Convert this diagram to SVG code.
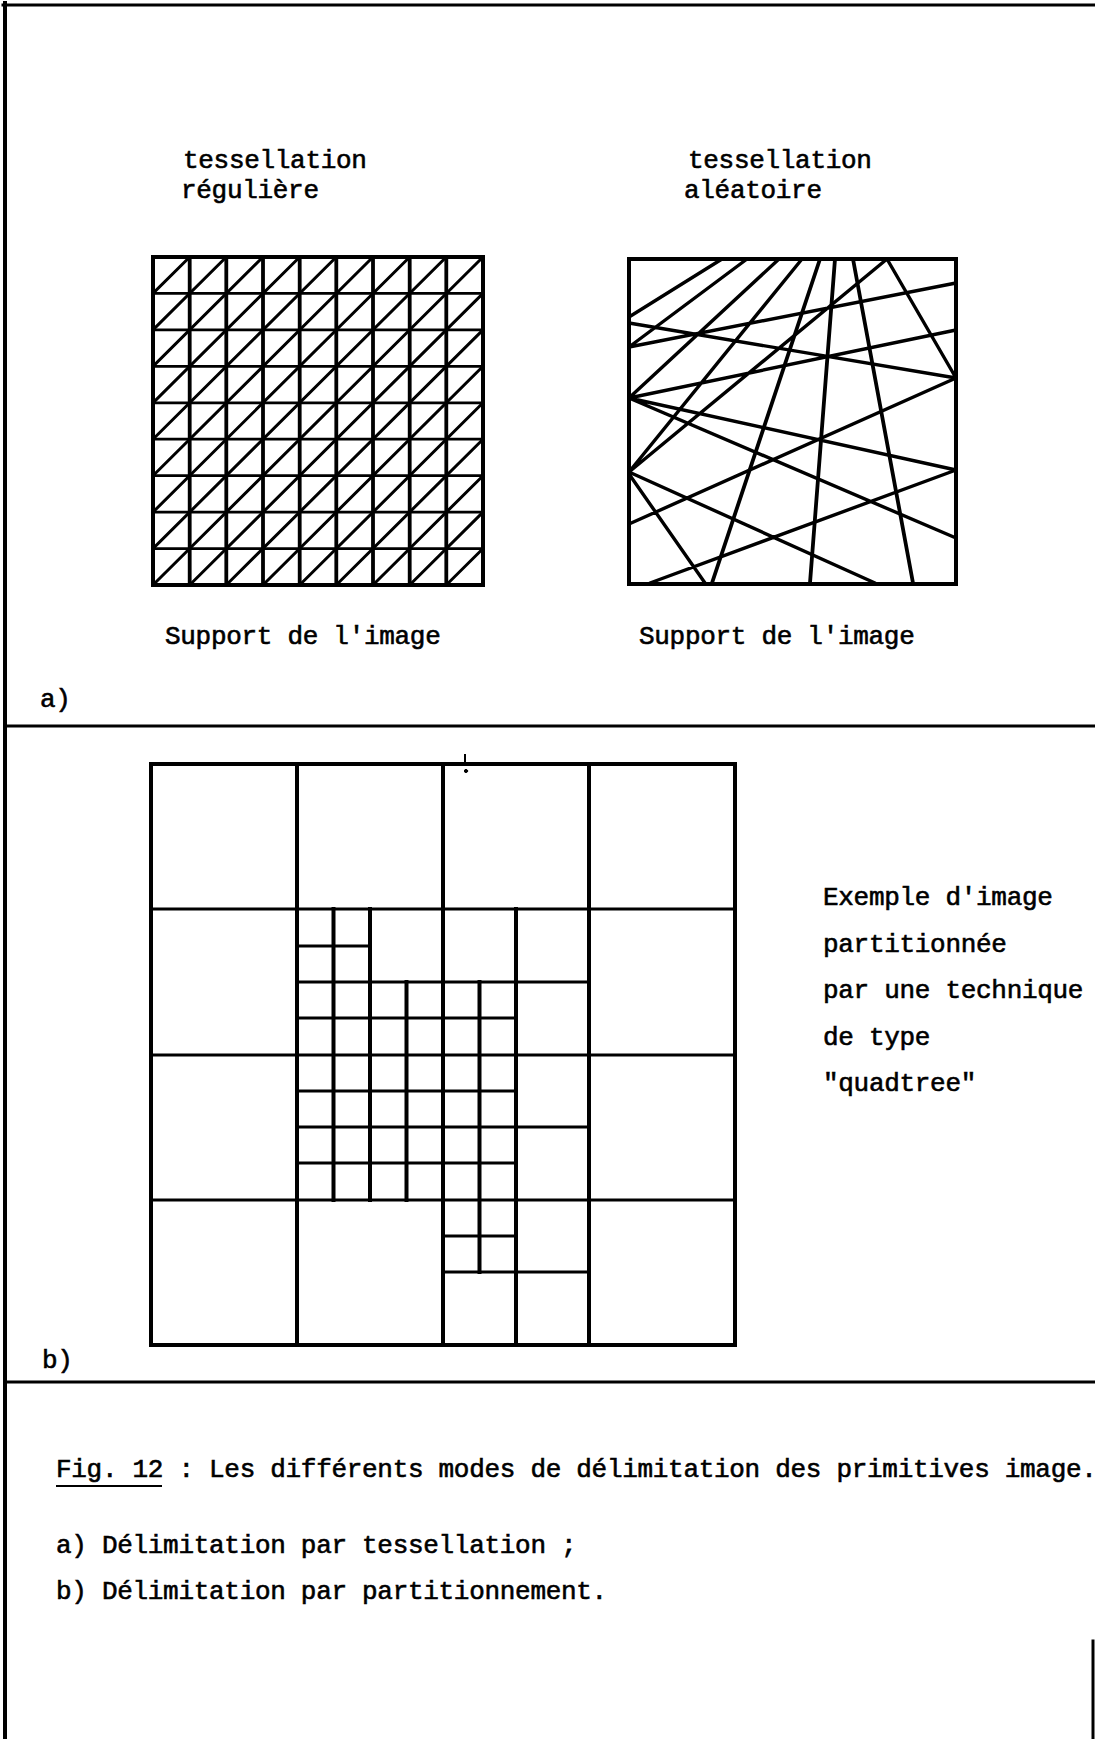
<svg xmlns="http://www.w3.org/2000/svg" width="1095" height="1739" viewBox="0 0 1095 1739">
<style>
.t{font-family:"Liberation Mono","Courier New",monospace;font-size:26px;letter-spacing:-0.3px;fill:#000;stroke:#000;stroke-width:0.6px}
.k{stroke:#000;fill:none;stroke-linecap:square}
.f{stroke-width:3}
.b{stroke-width:4}
.v{stroke-width:3.8}
.h{stroke-width:2.7}
.d{stroke-width:3}
.r{stroke-width:3.4;stroke-linecap:round}
.qv{stroke-width:4}
.qh{stroke-width:3}
</style>
<rect width="1095" height="1739" fill="#fff"/>
<g id="frame" class="k">
<line class="b" x1="5" y1="3" x2="5" y2="1739"/>
<line class="f" x1="3" y1="5" x2="1095" y2="5"/>
<line class="f" x1="5" y1="726" x2="1095" y2="726"/>
<line class="f" x1="5" y1="1382" x2="1095" y2="1382"/>
<line class="f" x1="1093" y1="1641" x2="1093" y2="1739"/>
</g>
<g id="regular-tessellation" class="k">
<path class="v" d="M189.7 257V585M226.3 257V585M263 257V585M299.7 257V585M336.3 257V585M373 257V585M409.7 257V585M446.3 257V585"/>
<path class="h" d="M153 293.4H483M153 329.9H483M153 366.3H483M153 402.8H483M153 439.2H483M153 475.7H483M153 512.1H483M153 548.6H483"/>
<path class="d" d="M153 293.4L189.7 257M153 329.9L226.3 257M153 366.3L263 257M153 402.8L299.7 257M153 439.2L336.3 257M153 475.7L373 257M153 512.1L409.7 257M153 548.6L446.3 257M153 585L483 257M189.7 585L483 293.4M226.3 585L483 329.9M263 585L483 366.3M299.7 585L483 402.8M336.3 585L483 439.2M373 585L483 475.7M409.7 585L483 512.1M446.3 585L483 548.6"/>
<rect class="b" x="153" y="257" width="330" height="328"/>
</g>
<g id="random-tessellation" class="k">
<path class="r" d="M629 317L722 259M629 347L747 259M629 398L779 259M629 472L802 259M629 347L956 283M629 323L956 378M629 398L956 330M629 398L956 470M629 398L956 538M629 524L956 378M650 583L956 470M629 472L875 583M629 474L705 583M629 472L887 259M887 259L956 378"/>
<path class="r" style="stroke-width:3.8" d="M820 259L712 583M835 259L810 583M853 259L913 583"/>
<rect class="b" x="629" y="259" width="327" height="325"/>
</g>
<g id="quadtree" class="k">
<path class="qv" d="M297 764V1345M443 764V1345M589 764V1345M333.5 909V1200M370 909V1200M406.5 982V1200M479.5 982V1272M516 909V1345"/>
<path class="qh" d="M151 909H735M151 1055H735M151 1200H735M297 946H370M297 982H589M297 1018H516M297 1091H516M297 1127H589M297 1163H516M443 1236H516M443 1272H589"/>
<rect class="b" x="151" y="764" width="584" height="581"/>
<line x1="465" y1="755" x2="465" y2="762" stroke="#000" stroke-width="2"/>
<circle cx="466" cy="771" r="1.6" fill="#000"/>
</g>
<g id="labels">
<text class="t" x="183" y="168">tessellation</text>
<text class="t" x="181" y="198">régulière</text>
<text class="t" x="688" y="168">tessellation</text>
<text class="t" x="684" y="198">aléatoire</text>
<text class="t" x="165" y="644">Support de l'image</text>
<text class="t" x="639" y="644">Support de l'image</text>
<text class="t" x="40" y="707">a)</text>
<text class="t" x="42" y="1368">b)</text>
<text class="t" x="823" y="905">Exemple d'image</text>
<text class="t" x="823" y="951.5">partitionnée</text>
<text class="t" x="823" y="998">par une technique</text>
<text class="t" x="823" y="1044.5">de type</text>
<text class="t" x="823" y="1091">"quadtree"</text>
</g>
<g id="caption">
<text class="t" x="56" y="1477">Fig. 12 : Les différents modes de délimitation des primitives image.</text>
<line x1="56" y1="1486" x2="162" y2="1486" stroke="#000" stroke-width="2"/>
<text class="t" x="56" y="1553">a) Délimitation par tessellation ;</text>
<text class="t" x="56" y="1599">b) Délimitation par partitionnement.</text>
</g>
</svg>
